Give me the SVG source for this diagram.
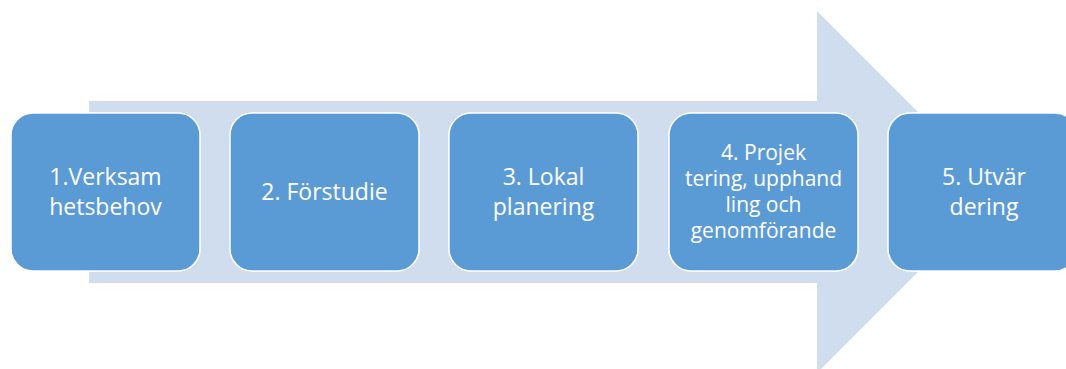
<svg xmlns="http://www.w3.org/2000/svg" width="1066" height="369" viewBox="0 0 1066 369">
<style>
.box{fill:#5B9BD5;stroke:#FFFFFF;stroke-width:1.5}
.t{fill:#FFFFFF;font-family:"Open Sans","Liberation Sans",sans-serif;text-anchor:middle}
.big{font-size:23px}
.small{font-size:21px}
</style>
<rect width="1066" height="369" fill="#FFFFFF"/>
<g id="arrow">
<polygon points="89,101 817,101 817,11 998,192 817,373 817,283 89,283" fill="#D0DDEF"/>
</g>
<g id="connectors"></g>
<g id="n1">
<rect class="box" x="11" y="113" width="189" height="158" rx="22"/>
<text class="t big" x="105.5" y="185">1.Verksam</text>
<text class="t big" x="105.5" y="215">hetsbehov</text>
</g>
<g id="n2">
<rect class="box" x="230" y="113" width="189" height="158" rx="22"/>
<text class="t big" x="324.5" y="200">2. Förstudie</text>
</g>
<g id="n3">
<rect class="box" x="449" y="113" width="189" height="158" rx="22"/>
<text class="t big" x="543.5" y="185">3. Lokal</text>
<text class="t big" x="543.5" y="215">planering</text>
</g>
<g id="n4">
<rect class="box" x="669" y="113" width="189" height="158" rx="22"/>
<text class="t small" x="763.5" y="160">4. Projek</text>
<text class="t small" x="763.5" y="186">tering, upphand</text>
<text class="t small" x="763.5" y="212">ling och</text>
<text class="t small" x="763.5" y="238">genomförande</text>
</g>
<g id="n5">
<rect class="box" x="888" y="113" width="189" height="158" rx="22"/>
<text class="t big" x="984" y="185">5. Utvär</text>
<text class="t big" x="984" y="215">dering</text>
</g>
</svg>
